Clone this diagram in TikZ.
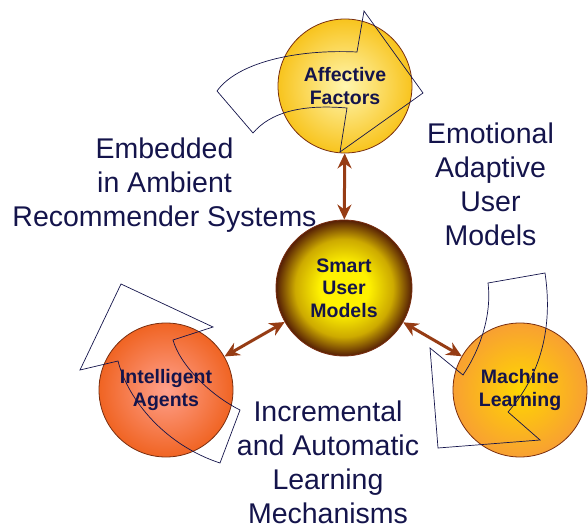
\documentclass[tikz,border=0pt]{standalone}
\usepackage{fontspec}
\setmainfont{Liberation Sans}
\usetikzlibrary{arrows.meta}

\definecolor{inkblue}{RGB}{20,20,75}
\definecolor{rimbrown}{RGB}{120,45,15}
\definecolor{linkbrown}{RGB}{150,60,20}
\definecolor{affectin}{RGB}{255,246,175}
\definecolor{affectout}{RGB}{248,196,30}
\definecolor{smartin}{RGB}{255,242,0}
\definecolor{smartmid}{RGB}{205,170,0}
\definecolor{smartout}{RGB}{85,30,5}
\definecolor{agentsin}{RGB}{255,160,140}
\definecolor{agentsout}{RGB}{240,100,35}
\definecolor{learnin}{RGB}{255,215,0}
\definecolor{learnout}{RGB}{248,160,50}

\pgfdeclareradialshading{affectshade}{\pgfpoint{0bp}{0bp}}{color(0bp)=(affectin); color(25bp)=(affectout); color(50bp)=(affectout)}
\pgfdeclareradialshading{smartshade}{\pgfpoint{0bp}{0bp}}{color(0bp)=(smartin); color(9bp)=(smartin); color(18bp)=(smartmid); color(25bp)=(smartout); color(50bp)=(smartout)}
\pgfdeclareradialshading{agentsshade}{\pgfpoint{0bp}{0bp}}{color(0bp)=(agentsin); color(25bp)=(agentsout); color(50bp)=(agentsout)}
\pgfdeclareradialshading{learnshade}{\pgfpoint{0bp}{0bp}}{color(0bp)=(learnin); color(25bp)=(learnout); color(50bp)=(learnout)}

\begin{document}
\begin{tikzpicture}[
    x=1pt, y=-1pt,
    >={Stealth[length=15pt,width=14pt]},
    ball/.style={circle, draw=rimbrown, line width=0.8pt, minimum size=134pt, inner sep=0pt, align=center, text=inkblue, font=\fontsize{19.5}{22.5}\selectfont\bfseries},
    theme/.style={align=center, inner sep=0pt, anchor=north, text=inkblue, font=\fontsize{28.5}{33.8}\selectfont},
    link/.style={<->, draw=linkbrown, line width=3pt},
    swirl/.style={draw=inkblue, line width=0.7pt, line join=miter}
]
\useasboundingbox (0,0) rectangle (588,529);

% circles
\node[ball, shade, shading=affectshade] (affect) at (345,86) {Affective\\Factors};
\node[ball, shade, shading=smartshade, minimum size=136pt] (smart) at (344,288) {Smart\\User\\Models};
\node[ball, shade, shading=agentsshade] (agents) at (166,390) {Intelligent\\Agents};
\node[ball, shade, shading=learnshade] (learning) at (520,390) {Machine\\Learning};

% links
\draw[link] (smart) -- (affect);
\draw[link] (smart) -- (agents);
\draw[link] (smart) -- (learning);

% curved arrow outlines
\draw[swirl] (217,91) .. controls (237,63) and (295,49) .. (357,52) -- (364,11) -- (423,93) -- (340,152) -- (347,108) .. controls (300,104) and (270,113) .. (253,133) -- cycle;
\draw[swirl] (121,284) -- (80,370) -- (118,361) .. controls (128,400) and (165,445) .. (220,463) -- (240,410) .. controls (210,395) and (180,365) .. (173,340) -- (213,327) -- cycle;
\draw[swirl] (488,283) -- (545,273) .. controls (552,320) and (545,370) .. (508,412) -- (540,440) -- (438,448) -- (430,348) -- (463,375) .. controls (480,350) and (492,315) .. (488,283) -- cycle;

% labels
\node[theme] (embedded) at (164.5,138) {Embedded\\in Ambient\\Recommender Systems};
\node[theme] (emotional) at (490.5,123) {Emotional\\Adaptive\\User\\Models};
\node[theme] (incremental) at (328,401) {Incremental\\and Automatic\\Learning\\Mechanisms};

\end{tikzpicture}
\end{document}
